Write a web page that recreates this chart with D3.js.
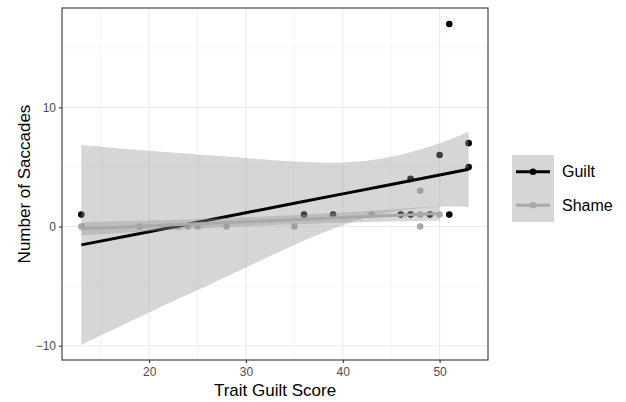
<!DOCTYPE html>
<html>
<head>
<meta charset="utf-8">
<script src="https://cdn.jsdelivr.net/npm/d3@7"></script>
<style>
  body { margin: 0; background: #fff; }
  text { font-family: "Liberation Sans", Arial, sans-serif; }
</style>
</head>
<body>
<div id="chart"></div>
<script>
// raw points
var guiltX = [13, 36, 39, 46, 47, 47, 49, 50, 51, 51, 53, 53];
var guiltY = [1, 1, 1, 1, 1, 4, 1, 6, 1, 17, 5, 7];
var shameX = [13, 19, 22, 23, 24, 25, 28, 35, 43, 48, 48, 48, 50];
var shameY = [0, 0, 0, 0, 0, 0, 0, 0, 1, 1, 3, 0, 1];

// smooth lines + confidence bands
var guiltBandX = [13, 20, 25, 30, 35, 40, 45, 50, 53];
var guiltFit = [-1.54, -0.43, 0.36, 1.16, 1.95, 2.74, 3.53, 4.33, 4.80];
var guiltUpper = [6.84, 6.35, 6.05, 5.75, 5.45, 5.38, 5.85, 7.0, 7.96];
var guiltLower = [-9.92, -7.21, -5.33, -3.43, -1.55, 0.10, 1.21, 1.66, 1.64];

var shameBandX = [13, 20, 25, 30, 35, 40, 45, 50];
var shameFit = [-0.19, 0.054, 0.228, 0.403, 0.577, 0.751, 0.926, 1.10];
var shameUpper = [0.36, 0.50, 0.63, 0.78, 0.97, 1.18, 1.43, 1.70];
var shameLower = [-0.74, -0.40, -0.17, 0.02, 0.19, 0.32, 0.43, 0.50];

var xTicks = [20, 30, 40, 50];
var yTicks = [-10, 0, 10];
var xMinor = [15, 25, 35, 45, 55];
var yMinor = [-5, 5, 15];
var groups = ["Guilt", "Shame"];
var groupColors = ["#000000", "#a9a9a9"];

var svgWidth = 626;
var svgHeight = 402;
var margin = { top: 8, right: 138, bottom: 42, left: 62 };
var width = svgWidth - margin.left - margin.right;
var height = svgHeight - margin.top - margin.bottom;

var svg = d3.select('#chart')
    .append('svg')
    .attr('width', svgWidth)
    .attr('height', svgHeight);

var chartGroup = svg.append('g')
    .attr('transform', `translate(${margin.left}, ${margin.top})`);

var xScale = d3.scaleLinear().domain([11, 55]).range([0, width]);
var yScale = d3.scaleLinear().domain([-11.2, 18.34]).range([height, 0]);

// grid lines
chartGroup.selectAll('.xminor').data(xMinor).enter().append('line')
    .attr('x1', d => xScale(d)).attr('x2', d => xScale(d))
    .attr('y1', 0).attr('y2', height)
    .attr('stroke', '#f0f0f0').attr('stroke-width', 0.7);
chartGroup.selectAll('.yminor').data(yMinor).enter().append('line')
    .attr('y1', d => yScale(d)).attr('y2', d => yScale(d))
    .attr('x1', 0).attr('x2', width)
    .attr('stroke', '#f0f0f0').attr('stroke-width', 0.7);
chartGroup.selectAll('.xmajor').data(xTicks).enter().append('line')
    .attr('x1', d => xScale(d)).attr('x2', d => xScale(d))
    .attr('y1', 0).attr('y2', height)
    .attr('stroke', '#ebebeb').attr('stroke-width', 1.1);
chartGroup.selectAll('.ymajor').data(yTicks).enter().append('line')
    .attr('y1', d => yScale(d)).attr('y2', d => yScale(d))
    .attr('x1', 0).attr('x2', width)
    .attr('stroke', '#ebebeb').attr('stroke-width', 1.1);

// points first, the bands sit on top of them
function drawPoints(xs, ys, color) {
    chartGroup.append('g').selectAll('circle')
        .data(xs.map((x, i) => ({ x: x, y: ys[i] })))
        .enter()
        .append('circle')
        .attr('cx', d => xScale(d.x))
        .attr('cy', d => yScale(d.y))
        .attr('r', 3.3)
        .attr('fill', color);
}
drawPoints(guiltX, guiltY, groupColors[0]);
drawPoints(shameX, shameY, groupColors[1]);

function drawSmooth(xs, fit, lo, hi, color) {
    var rows = xs.map((x, i) => ({ x: x, fit: fit[i], lo: lo[i], hi: hi[i] }));
    var area = d3.area()
        .x(d => xScale(d.x))
        .y0(d => yScale(d.lo))
        .y1(d => yScale(d.hi))
        .curve(d3.curveNatural);
    chartGroup.append('path')
        .datum(rows)
        .attr('d', area)
        .attr('fill', '#999999')
        .attr('fill-opacity', 0.4);
    var line = d3.line()
        .x(d => xScale(d.x))
        .y(d => yScale(d.fit));
    chartGroup.append('path')
        .datum(rows)
        .attr('d', line)
        .attr('fill', 'none')
        .attr('stroke', color)
        .attr('stroke-width', 3);
}
drawSmooth(guiltBandX, guiltFit, guiltLower, guiltUpper, groupColors[0]);
drawSmooth(shameBandX, shameFit, shameLower, shameUpper, groupColors[1]);

// panel border
chartGroup.append('rect')
    .attr('x', 0).attr('y', 0)
    .attr('width', width).attr('height', height)
    .attr('fill', 'none')
    .attr('stroke', '#333333')
    .attr('stroke-width', 1.1);

// axes
var xAxis = chartGroup.append('g')
    .attr('transform', `translate(0, ${height})`)
    .call(d3.axisBottom(xScale).tickValues(xTicks).tickSize(3).tickPadding(4));
var yAxis = chartGroup.append('g')
    .call(d3.axisLeft(yScale).tickValues(yTicks).tickSize(3).tickPadding(3));
[xAxis, yAxis].forEach(a => {
    a.select('.domain').remove();
    a.selectAll('line').attr('stroke', '#333333').attr('stroke-width', 1.1);
    a.selectAll('text')
        .style('font-size', '12px')
        .style('font-family', '"Liberation Sans", Arial, sans-serif')
        .attr('fill', '#4d4d4d');
});

// axis titles
svg.append('text')
    .attr('x', margin.left + width / 2)
    .attr('y', 396)
    .style('text-anchor', 'middle')
    .style('font-size', '17px')
    .attr('fill', '#000')
    .text('Trait Guilt Score');

svg.append('text')
    .attr('transform', `translate(30, ${margin.top + height / 2}) rotate(-90)`)
    .style('text-anchor', 'middle')
    .style('font-size', '17px')
    .attr('fill', '#000')
    .text('Number of Saccades');

// legend
var legend = svg.append('g').attr('transform', 'translate(512, 155)');
var keyH = 33.5;
groups.forEach((g, i) => {
    var row = legend.append('g').attr('transform', `translate(0, ${i * keyH})`);
    row.append('rect')
        .attr('width', 42).attr('height', keyH)
        .attr('fill', '#999999').attr('fill-opacity', 0.4);
    row.append('line')
        .attr('x1', 4).attr('x2', 38)
        .attr('y1', keyH / 2).attr('y2', keyH / 2)
        .attr('stroke', groupColors[i]).attr('stroke-width', 3);
    row.append('circle')
        .attr('cx', 21).attr('cy', keyH / 2).attr('r', 3.3)
        .attr('fill', groupColors[i]);
    row.append('text')
        .attr('x', 50).attr('y', keyH / 2 + 5.6)
        .style('font-size', '16px')
        .attr('fill', '#000')
        .text(g);
});
</script>
</body>
</html>
